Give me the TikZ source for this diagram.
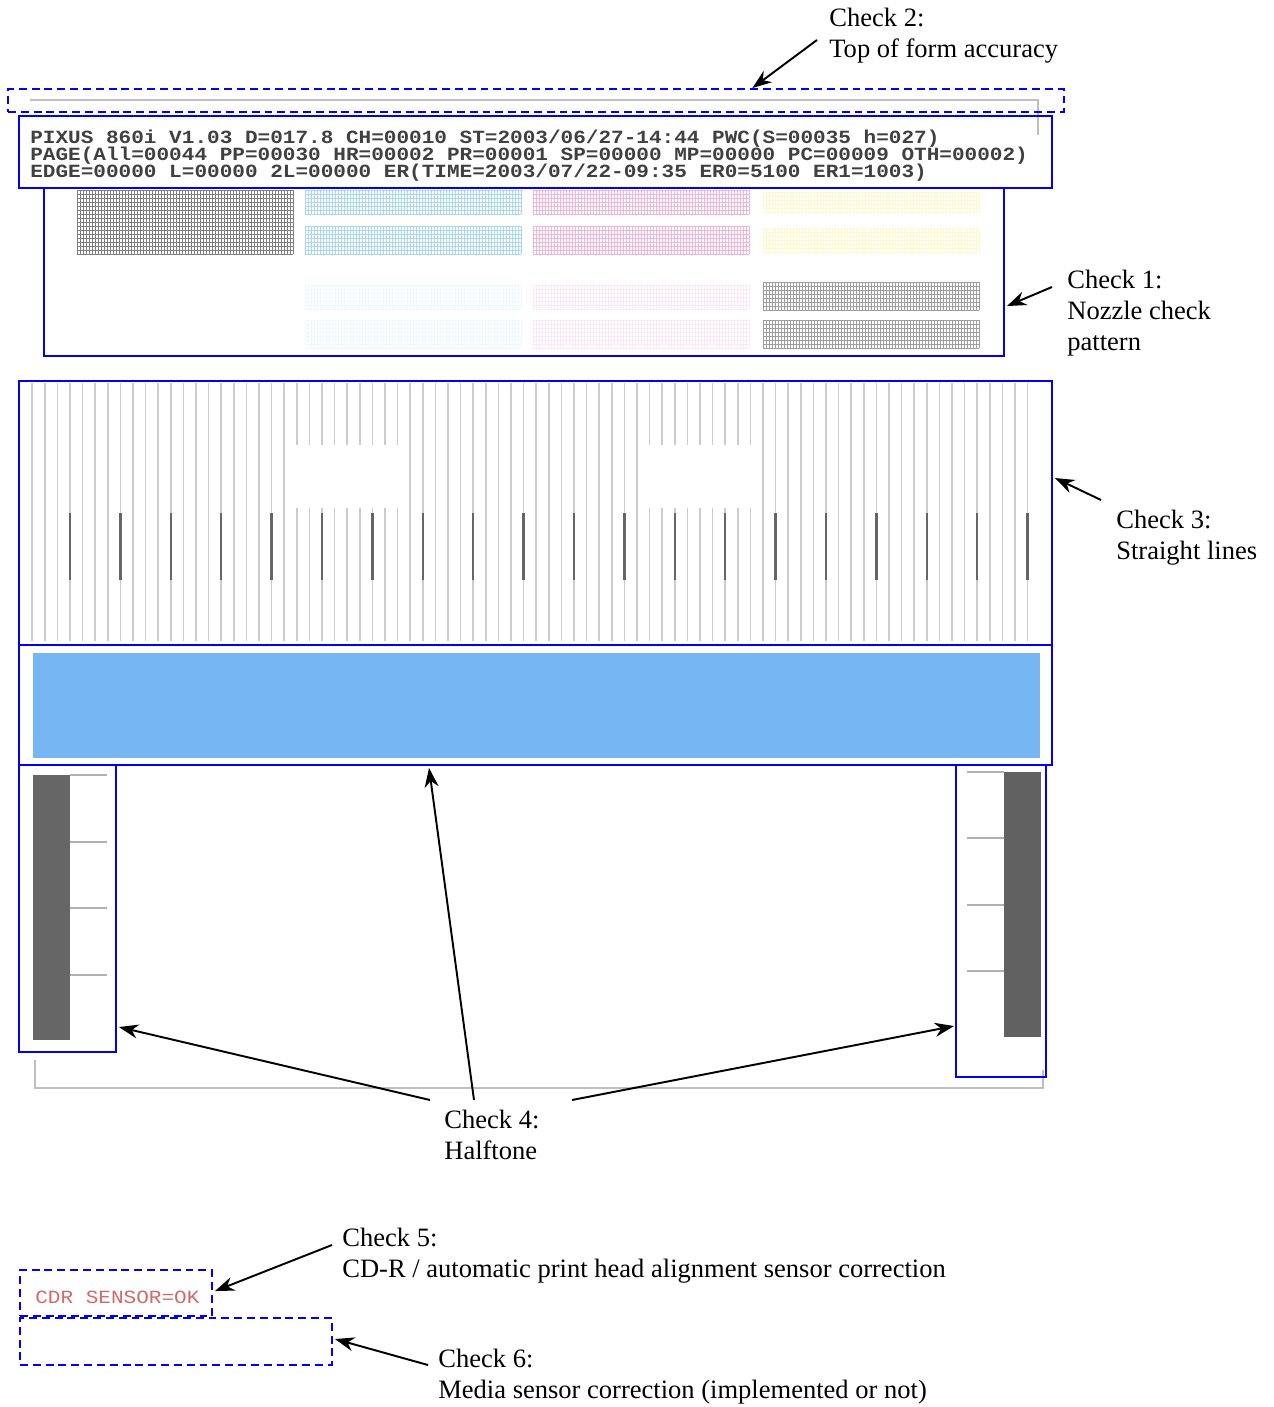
\documentclass[tikz,border=0pt]{standalone}
\usepackage{fontspec}
\setmainfont{Liberation Serif}
\setmonofont{Liberation Mono}
\usetikzlibrary{arrows.meta,calc,fit}

\definecolor{markblue}{RGB}{0,0,255}
\definecolor{halfblue}{RGB}{118,182,242}
\definecolor{nzcyan}{RGB}{170,215,242}
\definecolor{nzmag}{RGB}{242,180,215}
\definecolor{nzyel}{RGB}{255,248,200}
\definecolor{cdrred}{RGB}{210,105,105}

% one block of the nozzle check grid: x, y, rows, colour
\newcommand{\nozzle}[4]{%
  \foreach \u in {0,3,...,216} \draw[#4] (#1+\u,#2) -- (#1+\u,#2+4*#3);
  \foreach \v in {0,...,#3} \draw[#4] (#1,#2+4*\v) -- (#1+216,#2+4*\v);
}

\begin{document}
\begin{tikzpicture}[
  x=0.02cm, y=-0.02cm,
  bluebox/.style={draw=markblue, line width=1.1pt, inner sep=0pt},
  dashbox/.style={bluebox, dash pattern=on 4.5pt off 2.8pt},
  arrow/.style={-{Stealth[length=11pt,width=8pt]}, line width=1.1pt},
  label/.style={align=left, anchor=north west, inner sep=0pt, font=\fontsize{15.1}{17.6}\selectfont},
  hdrtext/.style={anchor=base west, inner sep=0pt, text=black!75, font=\ttfamily\bfseries\fontsize{10.6}{9.6}\selectfont},
  paper/.style={draw=black!25, line width=1.1pt},
  nz/.style={line width=0.3pt}
]
  \useasboundingbox (0,0) rectangle (1274,1407);

  % paper edges
  \draw[paper] (30,100) -- (1038,100) -- (1038,135);
  \draw[paper] (35,1060) -- (35,1088) -- (1043,1088) -- (1043,1070);

  % Check 2 box
  \node[dashbox, fit={(8,89) (1064,112)}] (tof) {};

  % Header text
  \node[hdrtext] (hdrA) at (30,143) {\scalebox{1.13}[1]{PIXUS 860i V1.03 D=017.8 CH=00010 ST=2003/06/27-14:44 PWC(S=00035 h=027)}};
  \node[hdrtext] (hdrB) at (30,160) {\scalebox{1.13}[1]{PAGE(All=00044 PP=00030 HR=00002 PR=00001 SP=00000 MP=00000 PC=00009 OTH=00002)}};
  \node[hdrtext] (hdrC) at (30,177) {\scalebox{1.13}[1]{EDGE=00000 L=00000 2L=00000 ER(TIME=2003/07/22-09:35 ER0=5100 ER1=1003)}};
  \node[bluebox, fit={(19,116) (1052,188)}] (hdr) {};

  % Nozzle check pattern
  \nozzle{77}{190}{16}{nz, black!50}
  \nozzle{305}{190}{6}{nz, nzcyan}
  \nozzle{305}{226}{7}{nz, nzcyan}
  \nozzle{533}{190}{6}{nz, nzmag}
  \nozzle{533}{226}{7}{nz, nzmag}
  \nozzle{763}{192}{5}{nz, nzyel}
  \nozzle{763}{228}{6}{nz, nzyel}
  \nozzle{305}{285}{6}{nz, cyan!7}
  \nozzle{305}{320}{7}{nz, cyan!7}
  \nozzle{533}{285}{6}{nz, magenta!9}
  \nozzle{533}{320}{7}{nz, magenta!9}
  \nozzle{763}{282}{7}{nz, black!38}
  \nozzle{763}{320}{7}{nz, black!38}
  \node[bluebox, fit={(44,188) (1004,356)}] (nozzle) {};

  % Straight lines
  \foreach \k in {-3,...,76}
    \draw[black!20, line width=1pt] (70+12.6*\k,383) -- (70+12.6*\k,641);
  \fill[white] (290,445) rectangle (408,508);
  \fill[white] (645,445) rectangle (760,508);
  \foreach \k in {0,...,19}
    \draw[black!60, line width=1.3pt] (70+50.4*\k,513) -- (70+50.4*\k,580);
  \node[bluebox, fit={(19,381) (1052,645)}] (lines) {};

  % Halftone
  \fill[halfblue] (33,653) rectangle (1040,758);
  \node[bluebox, fit={(19,645) (1052,765)}] (half) {};
  \fill[black!60] (33,775) rectangle (70,1040);
  \foreach \t in {775,842,908,975}
    \draw[black!30, line width=0.6pt] (70,\t) -- (107,\t);
  \node[bluebox, fit={(19,765) (116,1052)}] (htleft) {};
  \fill[black!62] (1004,772) rectangle (1041,1037);
  \foreach \t in {772,838,905,971}
    \draw[black!30, line width=0.6pt] (967,\t) -- (1004,\t);
  \node[bluebox, fit={(956,765) (1046,1077)}] (htright) {};

  % Sensor boxes
  \node[hdrtext, text=cdrred, font=\ttfamily\fontsize{10.6}{9.6}\selectfont] (cdrtext) at (35,1303) {\scalebox{1.13}[1]{CDR SENSOR=OK}};
  \node[dashbox, fit={(20,1270) (212,1316)}] (cdr) {};
  \node[dashbox, fit={(20,1318) (332,1365)}] (media) {};

  % Labels
  \node[label] (chk2) at (829,8) {Check 2:\\Top of form accuracy};
  \node[label] (chk1) at (1067,270) {Check 1:\\Nozzle check\\pattern};
  \node[label] (chk3) at (1116,510) {Check 3:\\Straight lines};
  \node[label] (chk4) at (444,1110) {Check 4:\\Halftone};
  \node[label] (chk5) at (342,1228) {Check 5:\\CD-R / automatic print head alignment sensor correction};
  \node[label] (chk6) at (438,1349) {Check 6:\\Media sensor correction (implemented or not)};

  % Arrows
  \draw[arrow] ($(chk2.north west)+(-12,32)$) -- ($(tof.north west)!0.7045!(tof.north east)$);
  \draw[arrow] ($(chk1.north west)+(-15,17)$) -- ($(nozzle.north east)+(2,119)$);
  \draw[arrow] ($(chk3.north west)+(-15,-10)$) -- ($(lines.north east)+(2,98)$);
  \draw[arrow] ($(chk4.north west)+(30,-10)$) -- ($(half.south west)+(411,2)$);
  \draw[arrow] ($(chk4.north west)+(-14,-10)$) -- ($(htleft.north east)+(2,263)$);
  \draw[arrow] ($(chk4.north west)+(128,-10)$) -- ($(htright.north west)+(-1,262)$);
  \draw[arrow] ($(chk5.north west)+(-10,17)$) -- ($(cdr.north east)+(2,22)$);
  \draw[arrow] ($(chk6.north west)+(-10,16)$) -- ($(media.north east)+(2,22)$);
\end{tikzpicture}
\end{document}
